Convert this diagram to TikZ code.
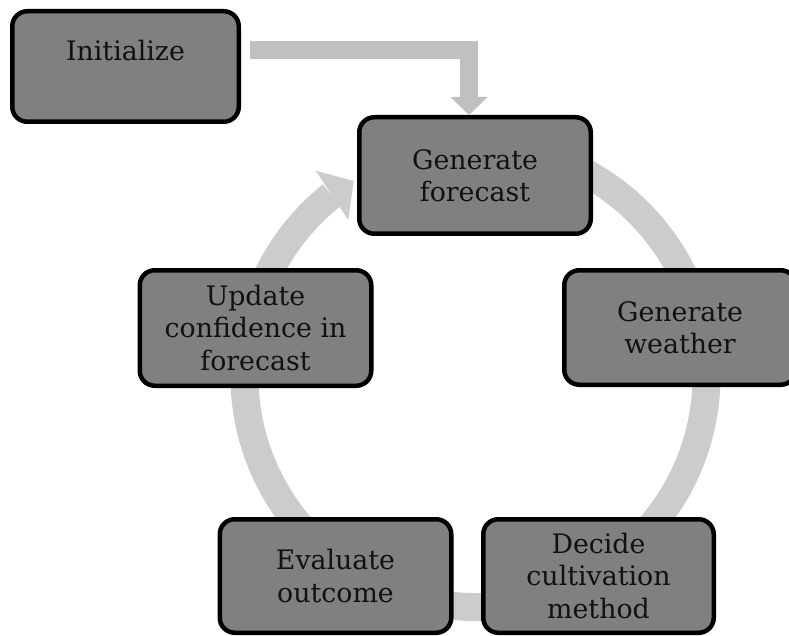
\documentclass[tikz,border=0pt]{standalone}
\usepackage{fontspec}
\setmainfont{DejaVu Serif}
\usetikzlibrary{arrows.meta,calc}
\definecolor{boxgray}{RGB}{128,128,128}
\definecolor{ringgray}{RGB}{204,204,204}
\definecolor{arrowgray}{RGB}{192,192,192}
\definecolor{txtcol}{RGB}{17,17,17}
\tikzset{
  stagebox/.style={draw=black, line width=4.5pt, fill=boxgray, rounded corners=15pt,
    minimum width=231.5pt, minimum height=114.5pt, inner sep=0pt, align=center,
    text=txtcol, font=\fontsize{26.8}{32.5}\selectfont},
  ringline/.style={draw=ringgray, line width=28pt},
  initarrow/.style={draw=arrowgray, line width=18pt, line join=miter,
    -{Triangle[length=18pt,width=36pt,fill=arrowgray]}}
}
\begin{document}
\begin{tikzpicture}[x=1pt,y=1pt]
\useasboundingbox (0,0) rectangle (789,-636);
% cycle ring
\coordinate (rc) at (475.5,-376);
\draw[ringline] ($(rc)+(80:231)$) arc[start angle=80, end angle=-231.5, radius=231];
\fill[ringgray] (315.7,-170.7) -- (353.7,-181) -- (348.3,-220) -- cycle;
% boxes
\node[stagebox, minimum width=226.5pt, minimum height=110.5pt] (init) at (125.5,-66.5) {Initialize\\\mbox{}};
\node[stagebox, minimum height=116.5pt] (gf) at (475,-175.5) {Generate\\forecast};
\node[stagebox] (gw) at (680,-327.5) {Generate\\weather};
\node[stagebox, minimum height=115.5pt] (upd) at (255.5,-328) {Update\\confidence in\\forecast};
\node[stagebox, minimum height=113.5pt] (eval) at (335.5,-576) {Evaluate\\outcome};
\node[stagebox, minimum width=230.5pt, minimum height=113.5pt] (dec) at (598.5,-576) {Decide\\cultivation\\method};
% initialize arrow
\coordinate (a0) at (250,-50);
\draw[initarrow] (a0) -| ($(gf.north)+(-6,0)$);
\end{tikzpicture}
\end{document}
